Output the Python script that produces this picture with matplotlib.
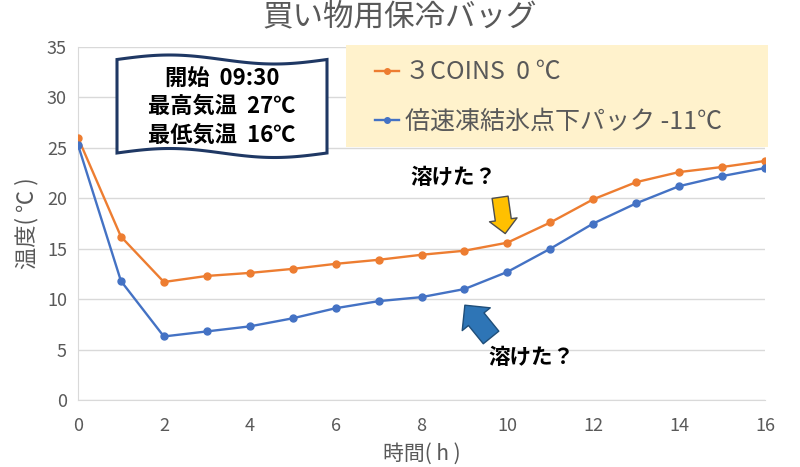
import matplotlib.pyplot as plt
import numpy as np
from matplotlib.patches import Polygon, Rectangle

plt.rcParams["font.family"] = ["Noto Sans CJK JP", "DejaVu Sans"]

hours = list(range(17))
coins = [26.0, 16.2, 11.7, 12.3, 12.6, 13.0, 13.5, 13.9, 14.4, 14.8, 15.6,
         17.6, 19.9, 21.6, 22.6, 23.1, 23.7]
ice_pack = [25.3, 11.8, 6.3, 6.8, 7.3, 8.1, 9.1, 9.8, 10.2, 11.0, 12.7,
            15.0, 17.5, 19.5, 21.2, 22.2, 23.0]
labels = ["３COINS  0 ℃", "倍速凍結氷点下パック -11℃"]
info_lines = ["開始  09:30", "最高気温  27℃", "最低気温  16℃"]

orange = "#ED7D31"
blue = "#4472C4"
gray = "#595959"

W, H = 800, 467
fig = plt.figure(figsize=(8, 4.67), dpi=100)
ax = fig.add_axes([78 / W, 1 - 400 / H, 687 / W, 353 / H])

ax.plot(hours, coins, color=orange, marker="o", markersize=5, lw=1.7, label=labels[0], zorder=3)
ax.plot(hours, ice_pack, color=blue, marker="o", markersize=5, lw=1.7, label=labels[1], zorder=3)

ax.set_xlim(0, 16)
ax.set_ylim(0, 35)
ax.set_xticks(range(0, 17, 2))
ax.set_yticks(range(0, 36, 5))
ax.grid(axis="y", color="#D9D9D9", lw=1)
ax.set_axisbelow(True)
for s in ["top", "right"]:
    ax.spines[s].set_visible(False)
for s in ["left", "bottom"]:
    ax.spines[s].set_color("#D9D9D9")
ax.tick_params(axis="x", length=0, labelsize=13, colors=gray, pad=12)
ax.tick_params(axis="y", length=0, labelsize=13, colors=gray, pad=8)
ax.set_xlabel("時間( h )", fontsize=15, color=gray, labelpad=6)
ax.set_ylabel("温度( ℃ )", fontsize=16, color=gray, labelpad=6)
fig.text(0.5, 1 - 17 / H, "買い物用保冷バッグ", fontsize=22, color=gray, ha="center", va="center")

# legend area
ax.add_patch(Rectangle((0.39, 0.717), 0.615, 0.29, transform=ax.transAxes, facecolor="#FFF2CC",
                       edgecolor="none", zorder=4, clip_on=False))
leg = ax.legend(loc="upper left", bbox_to_anchor=(0.432, 0.965), frameon=False, fontsize=18,
                labelcolor=gray, handlelength=0.95, borderpad=0, labelspacing=0.95,
                borderaxespad=0, handletextpad=0.25, markerscale=0.8)
leg.set_zorder(5)

# wavy info box (figure pixels)
t = np.linspace(0, 1, 80)
x0, x1 = 117, 327
top = 59.5 - 4.5 * np.sin(2 * np.pi * t)
bot = 153 - 4.5 * np.sin(2 * np.pi * t)
xs = x0 + (x1 - x0) * t
pts = list(zip(xs, H - top)) + list(zip(xs[::-1], H - bot[::-1]))
box = Polygon(pts, closed=True, transform=None, facecolor="white", edgecolor="#1F3864",
              lw=2.2, zorder=6)
fig.patches.append(box)
for i, line in enumerate(info_lines):
    fig.text(222 / W, 1 - (78 + i * 28.5) / H, line, ha="center", va="center",
             fontsize=16, fontweight="bold", color="black", zorder=7)

# annotations
ax.text(8.74, 22.1, "溶けた？", fontsize=15.5, fontweight="bold", ha="center", va="center")
ax.text(10.55, 4.17, "溶けた？", fontsize=15.5, fontweight="bold", ha="center", va="center")
ax.annotate("", xy=(9.95, 16.5), xytext=(9.83, 20.1),
            arrowprops=dict(arrowstyle="simple,head_length=0.5,head_width=1.0,tail_width=0.58",
                            mutation_scale=20, fc="#FFC000", ec="#4D4D4D", lw=1,
                            shrinkA=0, shrinkB=0), zorder=4)
ax.annotate("", xy=(9.01, 9.4), xytext=(9.62, 6.2),
            arrowprops=dict(arrowstyle="simple,head_length=0.65,head_width=1.3,tail_width=0.72",
                            mutation_scale=20, fc="#2E75B6", ec="#1F4E79", lw=1,
                            shrinkA=0, shrinkB=0), zorder=4)

fig.savefig("out.png", dpi=100)
